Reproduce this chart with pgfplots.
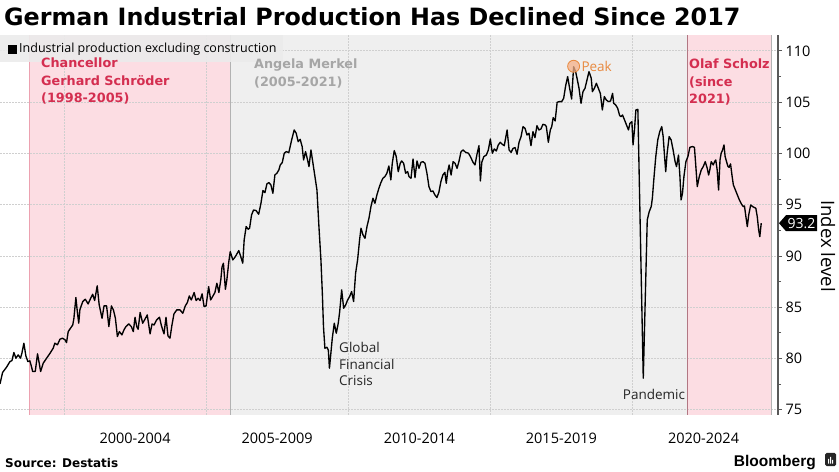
\documentclass[border=0pt]{standalone}
\usepackage{fontspec}
\setmainfont{Open Sans}
\newfontfamily\dejavu{DejaVu Sans}
\newfontfamily\libsans{Liberation Sans}
\usepackage{pgfplots}
\pgfplotsset{compat=1.18}
\definecolor{pinkbg}{HTML}{FCDDE3}
\definecolor{graybg}{HTML}{EFEFEF}
\definecolor{crim}{HTML}{D42E50}
\definecolor{peakor}{HTML}{E8893F}
\definecolor{peakfill}{HTML}{F5B088}
\definecolor{gridc}{HTML}{CFCFCF}
\begin{document}
\begin{tikzpicture}
\begin{axis}[
  at={(0bp,57bp)}, anchor=south west,
  width=778bp, height=380bp, scale only axis,
  xmin=1997.75, xmax=2025.12, ymin=74.5, ymax=111.55,
  set layers,
  axis x line*=bottom, axis y line*=right,
  axis line style={-},
  x axis line style={draw=none},
  y axis line style={draw=black!65, line width=1.2bp},
  xtick={2000,2005,2010,2015,2020}, xticklabels={},
  xtick style={draw=none},
  extra x ticks={2002.5,2007.5,2012.5,2017.5,2022.5},
  extra x tick labels={2000-2004,2005-2009,2010-2014,2015-2019,2020-2024},
  extra x tick style={grid=none, tick style={draw=none}},
  x tick label style={font=\fontsize{14.5bp}{17bp}\selectfont, yshift=-14bp},
  ymajorgrids, xmajorgrids,
  major grid style={gridc, line width=0.8bp, dash pattern=on 2bp off 1bp},
  ytick={75,80,...,110},
  minor y tick num=1,
  ytick align=outside, ytick pos=right,
  major tick length=4bp, minor tick length=3bp,
  y tick style={black!65, line width=1bp},
  y tick label style={font=\fontsize{14.5bp}{17bp}\selectfont},
  /pgf/number format/assume math mode=true,
]
\begin{pgfonlayer}{axis background}
\fill[pinkbg] (axis cs:1998.77,74.5) rectangle (axis cs:2005.85,111.55);
\fill[graybg] (axis cs:2005.85,74.5) rectangle (axis cs:2021.93,111.55);
\fill[pinkbg] (axis cs:2021.93,74.5) rectangle (axis cs:2024.88,111.55);
\end{pgfonlayer}
\draw[color=crim!45, line width=0.8bp] (axis cs:1998.77,74.5) -- (axis cs:1998.77,111.55);
\draw[color=black!30, line width=0.8bp] (axis cs:2005.85,74.5) -- (axis cs:2005.85,111.55);
\draw[color=crim!60!black!60, line width=0.8bp] (axis cs:2021.93,74.5) -- (axis cs:2021.93,111.55);
\draw[color=black!30, line width=0.8bp] (axis cs:2024.88,74.5) -- (axis cs:2024.88,111.55);
\addplot[black, line width=1.35bp, line join=round] coordinates {
(1997.75,77.53)(1997.84,78.64)(1997.98,79.16)(1998.10,79.71)(1998.17,79.81)(1998.24,80.59)(1998.31,80.04)(1998.39,80.36)(1998.47,80.04)(1998.52,80.52)(1998.59,81.50)(1998.66,80.26)(1998.73,79.71)(1998.80,79.78)(1998.85,79.29)(1998.90,78.74)(1998.99,78.74)(1999.07,80.46)(1999.13,79.55)(1999.18,78.74)(1999.27,79.55)(1999.39,80.04)(1999.51,80.52)(1999.62,81.01)(1999.68,81.50)(1999.77,81.34)(1999.86,81.89)(1999.95,81.99)(2000.04,81.82)(2000.09,81.56)(2000.15,82.63)(2000.23,82.96)(2000.31,83.28)(2000.35,83.93)(2000.42,85.95)(2000.47,84.58)(2000.52,83.45)(2000.56,84.75)(2000.66,85.56)(2000.75,85.79)(2000.85,85.33)(2000.94,85.88)(2001.01,86.27)(2001.08,85.66)(2001.17,87.09)(2001.24,85.23)(2001.34,83.93)(2001.41,85.14)(2001.50,85.14)(2001.58,83.12)(2001.67,85.14)(2001.74,84.75)(2001.81,83.93)(2001.88,82.15)(2001.95,82.63)(2002.04,82.31)(2002.11,82.80)(2002.18,83.12)(2002.28,83.38)(2002.37,83.12)(2002.44,82.63)(2002.50,84.03)(2002.56,83.12)(2002.61,82.86)(2002.68,84.49)(2002.77,83.45)(2002.85,83.84)(2002.93,84.26)(2003.03,82.41)(2003.10,83.38)(2003.17,83.28)(2003.26,83.77)(2003.36,84.03)(2003.43,83.19)(2003.52,82.41)(2003.59,84.03)(2003.66,82.21)(2003.73,81.99)(2003.80,83.28)(2003.87,84.36)(2003.97,84.75)(2004.08,84.75)(2004.18,84.42)(2004.27,85.14)(2004.34,85.46)(2004.41,86.11)(2004.48,85.72)(2004.58,86.44)(2004.65,85.66)(2004.72,85.88)(2004.79,85.66)(2004.86,86.31)(2004.93,85.07)(2005.00,85.14)(2005.09,87.02)(2005.16,85.72)(2005.23,86.05)(2005.31,86.44)(2005.38,87.35)(2005.45,86.44)(2005.52,87.74)(2005.56,88.91)(2005.61,89.30)(2005.68,86.76)(2005.73,87.67)(2005.80,89.46)
(2005.85,90.43)(2005.94,89.62)(2006.03,89.94)(2006.15,90.53)(2006.22,89.94)(2006.29,89.30)(2006.34,91.57)(2006.41,92.87)(2006.48,92.61)(2006.53,92.71)(2006.60,94.01)(2006.67,94.49)(2006.76,94.43)(2006.85,94.07)(2006.93,95.14)(2007.00,96.38)(2007.07,96.18)(2007.14,97.03)(2007.21,97.16)(2007.28,96.93)(2007.35,96.12)(2007.42,97.90)(2007.49,98.07)(2007.56,98.39)(2007.61,98.88)(2007.68,99.11)(2007.75,100.02)(2007.82,100.18)(2007.91,100.08)(2008.01,101.32)(2008.10,102.29)(2008.17,101.97)(2008.24,101.15)(2008.31,101.38)(2008.38,100.67)(2008.43,99.37)(2008.50,100.18)(2008.57,99.37)(2008.62,98.72)(2008.69,100.34)(2008.76,99.04)(2008.83,97.74)(2008.90,96.44)(2008.97,92.87)(2009.04,89.62)(2009.09,86.37)(2009.13,83.12)(2009.18,81.01)(2009.25,81.11)(2009.30,80.85)(2009.34,79.06)(2009.39,80.52)(2009.44,81.99)(2009.51,83.45)(2009.58,82.47)(2009.65,83.45)(2009.70,84.58)(2009.77,86.70)(2009.84,84.91)(2009.91,85.23)(2009.98,85.72)(2010.05,86.05)(2010.12,86.53)(2010.19,85.56)(2010.26,88.32)(2010.33,89.62)(2010.40,91.57)(2010.45,92.71)(2010.52,92.06)(2010.59,91.73)(2010.66,92.87)(2010.73,93.68)(2010.80,94.82)(2010.87,95.63)(2010.94,95.14)(2011.01,95.96)(2011.08,96.61)(2011.15,97.16)(2011.22,97.58)(2011.29,97.74)(2011.36,98.07)(2011.43,98.78)(2011.50,97.42)(2011.55,99.04)(2011.62,100.28)(2011.69,99.69)(2011.76,98.23)(2011.83,99.04)
(2011.88,99.27)(2011.95,99.04)(2012.02,98.07)(2012.09,98.23)(2012.14,97.74)(2012.21,97.58)(2012.28,99.46)(2012.35,97.64)(2012.42,99.27)(2012.49,98.55)(2012.56,99.14)(2012.63,99.20)(2012.70,99.04)(2012.77,98.07)(2012.84,96.77)(2012.91,96.28)(2012.98,96.35)(2013.05,95.96)(2013.12,95.70)(2013.19,96.22)(2013.26,97.25)(2013.33,97.90)(2013.40,98.16)(2013.45,97.09)(2013.50,98.23)(2013.55,98.88)(2013.62,97.90)(2013.69,99.20)(2013.76,99.04)(2013.83,98.55)(2013.90,99.27)(2013.97,100.18)(2014.04,100.34)(2014.13,100.11)(2014.23,100.02)(2014.30,99.69)(2014.39,99.14)(2014.46,98.88)(2014.53,99.92)(2014.60,100.76)(2014.65,97.32)(2014.70,99.14)(2014.77,99.69)(2014.86,99.85)(2014.93,100.34)(2015.00,101.41)(2015.07,100.02)(2015.14,100.44)(2015.21,100.24)(2015.28,100.83)(2015.35,101.09)(2015.42,100.89)(2015.49,100.76)(2015.59,102.29)(2015.66,100.34)(2015.73,100.11)(2015.80,100.50)(2015.87,100.57)(2015.94,99.92)(2016.01,101.09)(2016.08,101.64)(2016.15,102.62)(2016.22,102.45)(2016.29,101.80)(2016.36,101.97)(2016.43,100.76)(2016.50,102.13)(2016.57,101.54)(2016.64,102.71)(2016.71,102.29)(2016.78,102.39)(2016.85,102.84)(2016.93,102.78)(2016.97,102.62)(2017.04,101.09)(2017.11,102.29)(2017.16,102.62)(2017.21,103.49)(2017.28,103.17)(2017.35,104.99)(2017.42,105.05)(2017.51,105.05)(2017.58,105.38)(2017.65,106.61)(2017.72,107.49)(2017.79,106.35)(2017.86,105.31)(2017.93,108.46)(2018.00,107.98)(2018.05,107.33)(2018.12,106.35)(2018.19,104.89)(2018.26,106.03)(2018.33,106.35)(2018.40,107.16)(2018.47,107.98)(2018.55,107.33)(2018.59,106.03)(2018.66,106.35)(2018.73,106.84)(2018.80,106.35)(2018.87,105.86)(2018.94,104.24)(2019.01,105.54)(2019.08,105.21)(2019.16,105.05)(2019.23,105.12)(2019.30,105.86)(2019.34,104.89)(2019.41,104.73)(2019.48,104.40)(2019.55,103.69)
(2019.60,103.59)(2019.65,103.75)(2019.72,103.27)(2019.79,102.78)(2019.86,102.29)(2019.91,102.94)(2019.98,103.10)(2020.02,100.83)(2020.07,102.29)(2020.12,104.24)(2020.19,104.30)(2020.38,78.09)(2020.52,93.52)(2020.59,94.33)(2020.66,94.82)(2020.70,95.63)(2020.75,97.42)(2020.82,99.69)(2020.89,101.32)(2020.96,102.13)(2021.03,102.62)(2021.08,101.64)(2021.13,99.69)(2021.17,98.23)(2021.22,100.02)(2021.29,101.64)(2021.36,101.32)(2021.43,100.34)(2021.50,99.20)(2021.55,98.72)(2021.62,99.85)(2021.67,97.74)(2021.71,95.47)(2021.76,96.12)(2021.81,97.74)(2021.88,99.20)(2021.95,99.69)(2022.02,100.60)(2022.11,100.67)(2022.18,100.60)(2022.23,98.72)(2022.28,96.77)(2022.35,97.74)(2022.42,98.39)(2022.49,98.72)(2022.56,99.20)(2022.63,98.55)(2022.68,97.90)(2022.72,98.39)(2022.77,99.20)(2022.84,98.88)(2022.89,99.20)(2022.93,99.37)(2022.98,98.39)(2023.03,96.44)(2023.08,99.37)(2023.12,100.02)(2023.17,100.34)(2023.22,100.83)(2023.26,99.69)(2023.31,99.20)(2023.36,98.72)(2023.40,98.65)(2023.45,98.98)(2023.50,97.90)(2023.55,96.93)(2023.62,96.44)(2023.69,95.96)(2023.76,95.47)(2023.83,95.08)(2023.90,94.82)(2023.94,94.88)(2023.99,93.84)(2024.04,92.87)(2024.09,94.01)(2024.16,94.98)(2024.23,94.82)(2024.27,94.75)(2024.34,94.66)(2024.39,93.84)(2024.44,92.54)(2024.48,91.89)(2024.53,93.20)
};
\addplot[only marks, mark=*, mark size=6bp, mark options={fill=peakfill, draw=peakor, line width=0.8bp, fill opacity=0.75}] coordinates {(2017.93,108.5)};
\node[anchor=west, text=peakor, font=\fontsize{13.5bp}{16bp}\selectfont, inner sep=0pt] at (axis cs:2018.2,108.5) {Peak};
\coordinate (lastv) at (axis cs:2025.12,93.2);
\end{axis}
\begin{scope}[x=1bp,y=1bp]
% legend box
\fill[black!8, opacity=0.92] (0,410) rectangle (283,437);
\fill[black] (8,418) rectangle (17,427);
\node[anchor=base west, inner sep=0pt, font=\fontsize{12.5bp}{15bp}\selectfont] at (19,419) {Industrial production excluding construction};
% annotations
\begin{scope}[every node/.style={anchor=base west, inner sep=0pt}]
\node[font=\dejavu\bfseries\fontsize{12.8bp}{15bp}\selectfont, text=crim] at (41,404) {Chancellor};
\node[font=\dejavu\bfseries\fontsize{12.8bp}{15bp}\selectfont, text=crim] at (41,387) {Gerhard Schröder};
\node[font=\dejavu\bfseries\fontsize{12.8bp}{15bp}\selectfont, text=crim] at (41,370) {(1998-2005)};
\node[font=\dejavu\bfseries\fontsize{12.8bp}{15bp}\selectfont, text=black!35] at (254,403) {Angela Merkel};
\node[font=\dejavu\bfseries\fontsize{12.8bp}{15bp}\selectfont, text=black!35] at (254,386) {(2005-2021)};
\node[font=\dejavu\bfseries\fontsize{12.8bp}{15bp}\selectfont, text=crim] at (689,403) {Olaf Scholz};
\node[font=\dejavu\bfseries\fontsize{12.8bp}{15bp}\selectfont, text=crim] at (689,386) {(since};
\node[font=\dejavu\bfseries\fontsize{12.8bp}{15bp}\selectfont, text=crim] at (689,369) {2021)};
\node[font=\fontsize{13.5bp}{16bp}\selectfont, text=black!85] at (339,120) {Global};
\node[font=\fontsize{13.5bp}{16bp}\selectfont, text=black!85] at (339,103) {Financial};
\node[font=\fontsize{13.5bp}{16bp}\selectfont, text=black!85] at (339,87) {Crisis};
\node[font=\fontsize{13.5bp}{16bp}\selectfont, text=black!85, anchor=base] at (654,73) {Pandemic};
% title and footer
\node[font=\dejavu\bfseries\fontsize{23.8bp}{26bp}\selectfont] at (4,446) {German Industrial Production Has Declined Since 2017};
\node[font=\dejavu\bfseries\fontsize{12bp}{14bp}\selectfont] at (5,5) {Source: Destatis};
\node[font=\libsans\bfseries\fontsize{15.5bp}{18bp}\selectfont, anchor=base east] at (816,6) {Bloomberg};
\end{scope}
\fill[black!85, rounded corners=1.5bp] (825,6) rectangle (836,19);
\fill[white] (828,8.5) rectangle (829,13) (830,8.5) rectangle (831,15) (832,8.5) rectangle (833,12);
% y label
\node[rotate=-90, font=\fontsize{18.5bp}{20bp}\selectfont] at (828,226) {Index level};
% last value box
\begin{scope}[shift={(lastv)}]
\fill[black] (1,0) -- (8,8) -- (39,8) -- (39,-8) -- (8,-8) -- cycle;
\node[text=white, font=\fontsize{14bp}{16bp}\selectfont, inner sep=0pt] at (23.5,0) {93.2};
\end{scope}
\end{scope}
\pgfresetboundingbox
\path[use as bounding box] (0bp,0bp) rectangle (839bp,472bp);
\end{tikzpicture}
\end{document}
